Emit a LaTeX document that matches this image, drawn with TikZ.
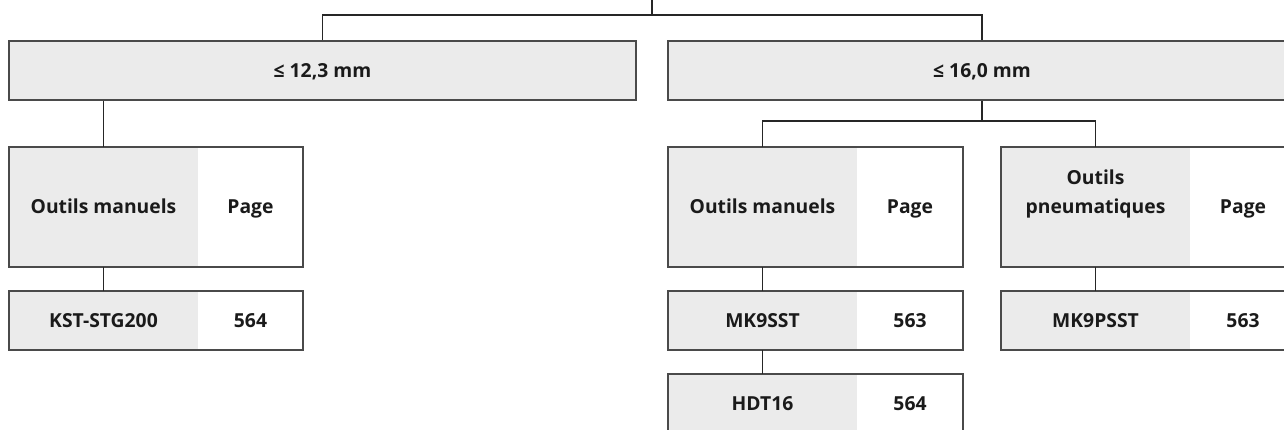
\documentclass[tikz,border=0pt]{standalone}
\usepackage{fontspec}
\setmainfont{Open Sans}
\definecolor{cellgray}{HTML}{EBEBEB}
\definecolor{edgegray}{HTML}{4A4A4A}
\definecolor{txt}{HTML}{1A1A1A}
\begin{document}
\begin{tikzpicture}[x=1pt,y=-1pt,
  lbl/.style={font=\fontsize{19.3}{29.5}\selectfont\bfseries, text=txt, align=center, inner sep=0pt, text height=13.8pt, text depth=0pt},
  gcell/.style={lbl, fill=cellgray, minimum width=189pt},
  wcell/.style={lbl, minimum width=106pt},
  tall/.style={minimum height=120pt},
  short/.style={minimum height=59pt},
  border/.style={draw=edgegray, line width=1.6pt},
  conn/.style={draw=black!85, line width=1.4pt}
]
\useasboundingbox (0,0) rectangle (1284,430);
\clip (0,0) rectangle (1284,430);
% level 1
\node[lbl, fill=cellgray, border, minimum width=627pt, minimum height=59pt] (b1) at (322.5,70.5) {≤ 12,3 mm};
\node[lbl, fill=cellgray, border, minimum width=628pt, minimum height=59pt] (b2) at (982,70.5) {≤ 16,0 mm};
\coordinate (top) at (652,0);
\coordinate (j0) at (652,15);
\draw[conn] (top) -- (j0);
\draw[conn] (b1.north) |- (j0) -| (b2.north);
% left branch
\node[gcell, tall] (om1g) at (103.5,207) {Outils manuels};
\node[wcell, tall, minimum width=105pt] (om1w) at (250.5,207) {Page};
\draw[border] (om1g.north west) rectangle (om1w.south east);
\node[gcell, short] (kstg) at (103.5,320.5) {KST-STG200};
\node[wcell, short, minimum width=105pt] (kstw) at (250.5,320.5) {564};
\draw[border] (kstg.north west) rectangle (kstw.south east);
\draw[conn] (b1.south -| om1g.north) -- (om1g.north);
\draw[conn] (om1g.south) -- (kstg.north);
% right branch
\node[gcell, tall] (om2g) at (762.5,207) {Outils manuels};
\node[wcell, tall] (om2w) at (910,207) {Page};
\draw[border] (om2g.north west) rectangle (om2w.south east);
\node[gcell, short] (mkg) at (762.5,320.5) {MK9SST};
\node[wcell, short] (mkw) at (910,320.5) {563};
\draw[border] (mkg.north west) rectangle (mkw.south east);
\node[gcell, short] (hdg) at (762.5,403.5) {HDT16};
\node[wcell, short] (hdw) at (910,403.5) {564};
\draw[border] (hdg.north west) rectangle (hdw.south east);
\node[gcell, tall] (opg) at (1095.5,207) {Outils\\pneumatiques};
\node[wcell, tall] (opw) at (1243,207) {Page};
\draw[border] (opg.north west) rectangle (opw.south east);
\node[gcell, short] (mkpg) at (1095.5,320.5) {MK9PSST};
\node[wcell, short] (mkpw) at (1243,320.5) {563};
\draw[border] (mkpg.north west) rectangle (mkpw.south east);
\coordinate (j1) at (982,121);
\draw[conn] (b2.south) -- (j1);
\draw[conn] (om2g.north) |- (j1) -| (opg.north);
\draw[conn] (om2g.south) -- (mkg.north);
\draw[conn] (mkg.south) -- (hdg.north);
\draw[conn] (opg.south) -- (mkpg.north);
\end{tikzpicture}
\end{document}
